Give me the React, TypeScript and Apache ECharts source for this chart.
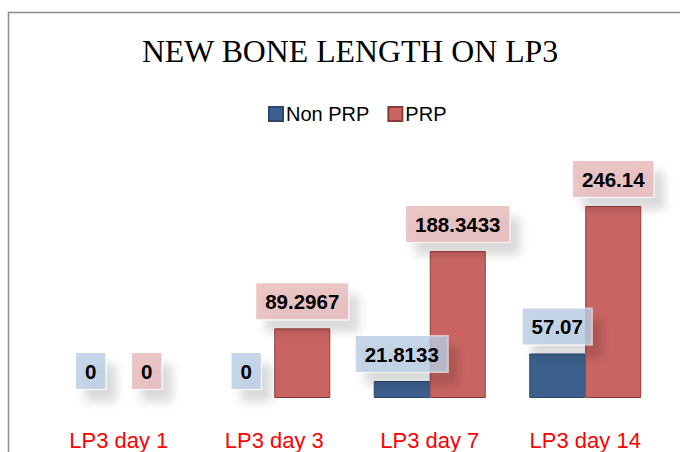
import React, { useEffect, useRef } from "react";
import * as echarts from "echarts";

const categories = ["LP3 day 1", "LP3 day 3", "LP3 day 7", "LP3 day 14"];
const nonPrp = [0, 0, 21.8133, 57.07];
const prp = [0, 89.2967, 188.3433, 246.14];
const seriesNames = ["Non PRP", "PRP"];

const labelFont = "'Liberation Sans', Arial, sans-serif";

function makeLabel(bg: string) {
  return {
    show: true,
    position: "top" as const,
    distance: 9,
    color: "#000",
    fontFamily: labelFont,
    fontWeight: "bold" as const,
    fontSize: 20.5,
    backgroundColor: bg,
    borderColor: "rgba(255,255,255,0.6)",
    borderWidth: 1,
    padding: [8, 9, 7, 9],
    shadowColor: "rgba(0,0,0,0.18)",
    shadowBlur: 10,
    shadowOffsetX: 10,
    shadowOffsetY: 12,
    formatter: (p: any) => String(p.value),
  };
}

function items(values: number[]) {
  return values.map((v) => ({
    value: v,
    itemStyle: v === 0 ? { borderWidth: 0 } : {},
  }));
}

export default function App() {
  const ref = useRef<HTMLDivElement>(null);
  useEffect(() => {
    if (!ref.current) return;
    const chart = echarts.init(ref.current, undefined, { renderer: "svg" });
    chart.setOption({
      animation: false,
      backgroundColor: "#fff",
      title: {
        text: "NEW BONE LENGTH ON LP3",
        left: 345,
        textAlign: "center",
        top: 30,
        textStyle: {
          fontFamily: "'Liberation Serif', 'DejaVu Serif', serif",
          fontWeight: "normal",
          fontSize: 31.8,
          color: "#000",
        },
      },
      legend: {
        top: 99,
        left: 263,
        icon: "rect",
        itemWidth: 14,
        itemHeight: 14,
        itemGap: 18,
        textStyle: {
          fontFamily: labelFont,
          fontSize: 20,
          color: "#000",
          padding: [0, 0, 0, -2],
        },
        data: seriesNames,
      },
      grid: { left: 41, right: 17, top: 164, bottom: 54 },
      xAxis: {
        type: "category",
        data: categories,
        axisLine: { show: false },
        axisTick: { show: false },
        axisLabel: {
          color: "#ff0000",
          fontFamily: labelFont,
          fontSize: 22,
          margin: 31,
        },
      },
      yAxis: {
        type: "value",
        min: 0,
        max: 300,
        show: false,
        splitLine: { show: false },
      },
      series: [
        {
          name: seriesNames[0],
          type: "bar",
          data: items(nonPrp),
          barWidth: 56,
          barGap: "0%",
          itemStyle: {
            color: "#3d5f8d",
            borderColor: "#2c476c",
            borderWidth: 1,
          },
          label: makeLabel("rgba(184,204,228,0.8)"),
        },
        {
          name: seriesNames[1],
          type: "bar",
          data: items(prp),
          barWidth: 56,
          barGap: "0%",
          itemStyle: {
            color: "#c96462",
            borderColor: "#8c3b3a",
            borderWidth: 1,
          },
          label: makeLabel("rgba(230,184,183,0.8)"),
        },
      ],
      graphic: [
        {
          type: "line",
          shape: { x1: 8, y1: 12.5, x2: 680, y2: 12.5 },
          style: { stroke: "#8c8c8c", lineWidth: 1.5 },
        },
        {
          type: "line",
          shape: { x1: 8.5, y1: 12, x2: 8.5, y2: 452 },
          style: { stroke: "#8c8c8c", lineWidth: 1.5 },
        },
      ],
    });
    return () => chart.dispose();
  }, []);
  return (
    <div
      ref={ref}
      style={{ position: "fixed", left: 0, top: 0, width: 680, height: 452 }}
    />
  );
}
